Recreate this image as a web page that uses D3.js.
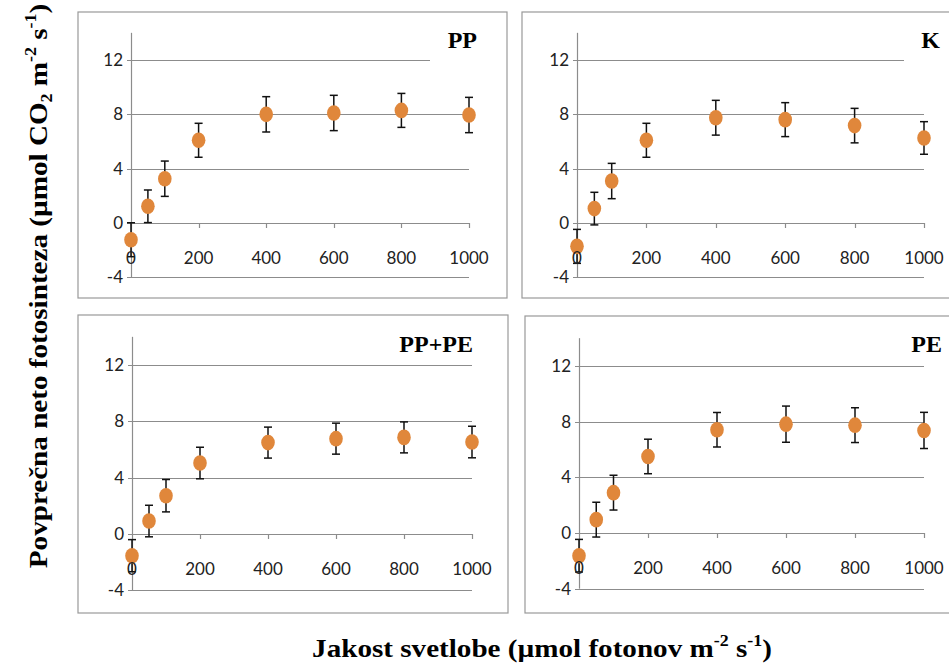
<!DOCTYPE html>
<html><head><meta charset="utf-8">
<script src="https://cdn.jsdelivr.net/npm/d3@7"></script>
<style>
html,body{margin:0;padding:0;background:#fff;}
svg{display:block;}
</style></head>
<body>
<svg id="c" width="949" height="665"></svg>
<script>
// ---- data ----
const light = [0, 50, 100, 200, 400, 600, 800, 1000];
const xTicks = [0, 200, 400, 600, 800, 1000];
const yTicks = [-4, 0, 4, 8, 12];
const panelNames = ["PP", "K", "PP+PE", "PE"];
const ppMean = [-1.23, 1.23, 3.26, 6.09, 8.0, 8.1, 8.29, 7.95];
const ppErr  = [1.25, 1.2, 1.3, 1.25, 1.3, 1.3, 1.25, 1.3];
const kMean  = [-1.72, 1.06, 3.09, 6.09, 7.75, 7.61, 7.17, 6.26];
const kErr   = [1.25, 1.2, 1.3, 1.25, 1.28, 1.25, 1.27, 1.2];
const pppeMean = [-1.54, 0.92, 2.72, 5.04, 6.49, 6.77, 6.86, 6.53];
const pppeErr  = [1.14, 1.12, 1.15, 1.12, 1.1, 1.1, 1.1, 1.12];
const peMean = [-1.63, 0.96, 2.9, 5.5, 7.42, 7.82, 7.75, 7.37];
const peErr  = [1.17, 1.25, 1.25, 1.24, 1.24, 1.3, 1.25, 1.3];

const means = [ppMean, kMean, pppeMean, peMean];
const errs = [ppErr, kErr, pppeErr, peErr];

// ---- layout ----
const layout = [
  {box:[78,12,507,298], xr:[131,469], y0:223, y12:60, lab:[477,48], cover:[430,20,60,46]},
  {box:[522,12,960,298], xr:[577,924], y0:223, y12:60, lab:[940,48], cover:[904,20,45,46]},
  {box:[78,315,508,613], xr:[132,472], y0:534, y12:365, lab:[473,352], cover:null},
  {box:[525,316,960,613], xr:[579,924], y0:533, y12:366, lab:[942,352], cover:null}
];

const svg = d3.select("#c");
const gridCol = "#8c8c8c";
const dotCol = "#E0873B";
const tickFont = "Lato, 'Open Sans', sans-serif";
const serif = "'Liberation Serif', 'DejaVu Serif', serif";

layout.forEach((L, i) => {
  const g = svg.append("g");
  const x = d3.scaleLinear().domain([0, 1000]).range(L.xr);
  const y = d3.scaleLinear().domain([0, 12]).range([L.y0, L.y12]);

  g.append("rect").attr("x", L.box[0]).attr("y", L.box[1])
    .attr("width", L.box[2]-L.box[0]).attr("height", L.box[3]-L.box[1])
    .attr("fill", "#fff").attr("stroke", "#999").attr("stroke-width", 1.2);

  // gridlines (y ticks)
  g.selectAll("line.grid").data(yTicks).enter().append("line")
    .attr("x1", x(0) - 4).attr("x2", x(1000))
    .attr("y1", d => Math.round(y(d)) + 0.5).attr("y2", d => Math.round(y(d)) + 0.5)
    .attr("stroke", gridCol).attr("stroke-width", 1.2);

  // y axis line
  g.append("line").attr("x1", Math.round(x(0))+0.5).attr("x2", Math.round(x(0))+0.5)
    .attr("y1", y(-4)).attr("y2", y(14)).attr("stroke", gridCol).attr("stroke-width", 1.2);

  // x ticks
  g.selectAll("line.xt").data(xTicks.slice(1)).enter().append("line")
    .attr("x1", d => Math.round(x(d))+0.5).attr("x2", d => Math.round(x(d))+0.5)
    .attr("y1", y(0)).attr("y2", y(0) + 5)
    .attr("stroke", gridCol).attr("stroke-width", 1.2);

  // cover box behind label
  if (L.cover) {
    g.append("rect").attr("x", L.cover[0]).attr("y", L.cover[1])
      .attr("width", L.cover[2]).attr("height", L.cover[3]).attr("fill", "#fff");
  }

  // error bars
  const m = means[i], e = errs[i];
  const eb = g.selectAll("g.eb").data(light).enter().append("g");
  eb.append("line")
    .attr("x1", (d) => x(d)).attr("x2", (d) => x(d))
    .attr("y1", (d, j) => y(m[j] + e[j])).attr("y2", (d, j) => y(m[j] - e[j]))
    .attr("stroke", "#111").attr("stroke-width", 1.5);
  [1, -1].forEach(s => {
    eb.append("line")
      .attr("x1", d => x(d) - 4).attr("x2", d => x(d) + 4)
      .attr("y1", (d, j) => y(m[j] + s*e[j])).attr("y2", (d, j) => y(m[j] + s*e[j]))
      .attr("stroke", "#111").attr("stroke-width", 1.5);
  });

  // markers
  g.selectAll("ellipse.dot").data(light).enter().append("ellipse")
    .attr("cx", d => x(d)).attr("cy", (d, j) => y(m[j]))
    .attr("rx", 6.8).attr("ry", 7.8).attr("fill", dotCol);

  // y tick labels
  g.selectAll("text.yl").data(yTicks).enter().append("text")
    .attr("x", x(0) - 8).attr("y", d => y(d)).attr("dy", "0.35em")
    .attr("text-anchor", "end").attr("font-family", tickFont).attr("font-size", 17)
    .attr("fill", "#222").text(d => d);

  // x tick labels
  g.selectAll("text.xl").data(xTicks).enter().append("text")
    .attr("x", d => x(d)).attr("y", y(0) + 35).attr("dy", "0.35em")
    .attr("text-anchor", "middle").attr("font-family", tickFont).attr("font-size", 17)
    .attr("fill", "#222").text(d => d);

  // panel label
  g.append("text").attr("x", L.lab[0]).attr("y", L.lab[1])
    .attr("text-anchor", "end").attr("font-family", serif).attr("font-weight", "bold")
    .attr("font-size", 24).attr("fill", "#000").text(panelNames[i]);
});

// axis titles
const yt = svg.append("text")
  .attr("transform", "translate(47,286) rotate(-90) scale(1.12,1)")
  .attr("text-anchor", "middle").attr("font-family", serif).attr("font-weight", "bold")
  .attr("font-size", 26).attr("fill", "#000");
yt.append("tspan").text("Povprečna neto fotosinteza (µmol CO");
yt.append("tspan").attr("font-size", 16).attr("dy", 5).text("2");
yt.append("tspan").attr("dy", -5).text(" m");
yt.append("tspan").attr("font-size", 16).attr("dy", -11).text("-2");
yt.append("tspan").attr("dy", 11).text(" s");
yt.append("tspan").attr("font-size", 16).attr("dy", -11).text("-1");
yt.append("tspan").attr("dy", 11).text(")");

const xt = svg.append("text")
  .attr("transform", "translate(542,657) scale(1.12,1)")
  .attr("text-anchor", "middle").attr("font-family", serif).attr("font-weight", "bold")
  .attr("font-size", 26).attr("fill", "#000");
xt.append("tspan").text("Jakost svetlobe (µmol fotonov m");
xt.append("tspan").attr("font-size", 16).attr("dy", -11).text("-2");
xt.append("tspan").attr("dy", 11).text(" s");
xt.append("tspan").attr("font-size", 16).attr("dy", -11).text("-1");
xt.append("tspan").attr("dy", 11).text(")");
</script>
</body></html>
